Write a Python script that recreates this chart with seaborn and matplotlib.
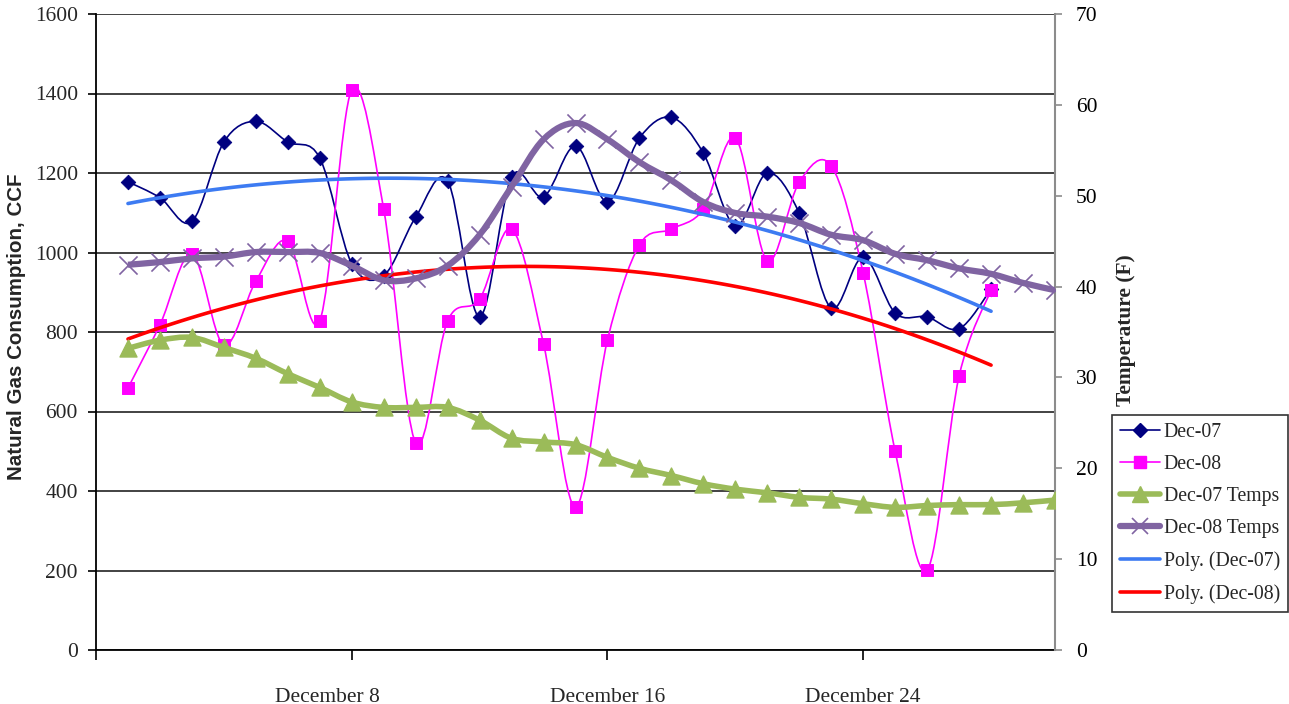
import numpy as np
import pandas as pd
import matplotlib
matplotlib.use('Agg')
import matplotlib.pyplot as plt
import matplotlib.transforms as mtransforms
from matplotlib.path import Path
from matplotlib.patches import PathPatch
from matplotlib.lines import Line2D
import seaborn as sns

# gas use, CCF, Dec 1 - Dec 28
gas_days = list(range(1, 29))
dec07_gas = [1178, 1138, 1078, 1278, 1330, 1278, 1238, 972, 942, 1089, 1180, 838, 1190, 1140,
             1268, 1128, 1288, 1340, 1250, 1067, 1200, 1099, 860, 988, 848, 838, 808, 908]
dec08_gas = [659, 818, 996, 767, 928, 1029, 828, 1409, 1109, 521, 828, 883, 1059, 770,
             360, 780, 1019, 1059, 1109, 1288, 979, 1177, 1218, 948, 500, 201, 689, 906]

# temperatures (F), Dec 1 - Dec 30
temp_days = list(range(1, 31))
dec07_temp = [33.2, 34.1, 34.4, 33.3, 32.1, 30.4, 28.9, 27.3, 26.7, 26.7, 26.7, 25.3, 23.3, 22.9, 22.6,
              21.2, 20.0, 19.2, 18.3, 17.7, 17.3, 16.8, 16.6, 16.1, 15.7, 15.9, 16.0, 16.0, 16.2, 16.5]
dec08_temp = [42.4, 42.7, 43.1, 43.3, 43.8, 43.8, 43.7, 42.3, 40.7, 40.9, 42.3, 45.7, 51.0, 56.2, 58.0,
              56.2, 53.7, 51.7, 49.3, 48.1, 47.7, 47.0, 45.7, 45.1, 43.6, 42.9, 42.0, 41.4, 40.4, 39.6]

tick_days = [0, 8, 16, 24]
tick_labels = ['', 'December 8', 'December 16', 'December 24']

NAVY = '#000080'
PINK = '#FF00FF'
GREEN = '#9BBB59'
PURPLE = '#8064A2'
BLUE = '#3D7BF2'
RED = '#FF0000'


def smooth_path(x, y):
    # excel style smoothed line (catmull-rom as bezier segments)
    pts = np.column_stack([x, y]).astype(float)
    n = len(pts)
    verts = [pts[0]]
    codes = [Path.MOVETO]
    for i in range(n - 1):
        p0 = pts[max(i - 1, 0)]
        p1 = pts[i]
        p2 = pts[i + 1]
        p3 = pts[min(i + 2, n - 1)]
        verts += [p1 + (p2 - p0) / 6, p2 - (p3 - p1) / 6, p2]
        codes += [Path.CURVE4] * 3
    return Path(verts, codes)


sns.set_style('white')
plt.rcParams['font.family'] = ['Liberation Serif', 'DejaVu Serif']

fig = plt.figure(figsize=(12.89, 7.04), dpi=100)
ax = fig.add_axes([96 / 1289, 54 / 704, 959 / 1289, 636 / 704])
ax2 = ax.twinx()

# gas series on left axis
gas = pd.DataFrame({'day': gas_days, 'd07': dec07_gas, 'd08': dec08_gas})
ax.add_patch(PathPatch(smooth_path(gas['day'], gas['d07']), fill=False, edgecolor=NAVY, lw=1.2, zorder=3))
sns.scatterplot(data=gas, x='day', y='d07', ax=ax, color=NAVY, marker='D', s=55, edgecolor=NAVY, zorder=4)
ax.add_patch(PathPatch(smooth_path(gas['day'], gas['d08']), fill=False, edgecolor=PINK, lw=1.2, zorder=3))
sns.scatterplot(data=gas, x='day', y='d08', ax=ax, color=PINK, marker='s', s=75, edgecolor=PINK, zorder=4)

# 2nd order poly trend lines
sns.regplot(data=gas, x='day', y='d07', order=2, scatter=False, ci=None, ax=ax,
            line_kws={'color': BLUE, 'lw': 2.6, 'zorder': 5})
sns.regplot(data=gas, x='day', y='d08', order=2, scatter=False, ci=None, ax=ax,
            line_kws={'color': RED, 'lw': 2.6, 'zorder': 5})

# temps on right axis
temps = pd.DataFrame({'day': temp_days, 't07': dec07_temp, 't08': dec08_temp})
ax2.add_patch(PathPatch(smooth_path(temps['day'], temps['t07']), fill=False, edgecolor=GREEN, lw=4, zorder=3))
sns.scatterplot(data=temps, x='day', y='t07', ax=ax2, color=GREEN, marker='^', s=150, edgecolor=GREEN, zorder=4)
ax2.add_patch(PathPatch(smooth_path(temps['day'], temps['t08']), fill=False, edgecolor=PURPLE, lw=4.5, zorder=3))
sns.scatterplot(data=temps, x='day', y='t08', ax=ax2, color=PURPLE, marker='x', s=170, linewidth=1.2, zorder=4)

ax.set_xlim(0, 30)
ax.set_ylim(0, 1600)
ax2.set_ylim(0, 70)
ax.set_yticks(range(0, 1601, 200))
ax2.set_yticks(range(0, 71, 10))
ax.set_xticks(tick_days)
ax.set_xticklabels(tick_labels)
ax.set_xlabel('')
ax.set_ylabel('')
ax2.set_ylabel('')

ax.yaxis.grid(True, color='#222222', lw=1.2)
ax.xaxis.grid(False)
ax2.grid(False)

for s in ['top', 'right']:
    ax.spines[s].set_visible(False)
for s in ['top', 'left', 'bottom']:
    ax2.spines[s].set_visible(False)
ax.spines['left'].set_color('black')
ax.spines['bottom'].set_color('black')
ax.spines['left'].set_linewidth(1.3)
ax.spines['bottom'].set_linewidth(1.3)
ax2.spines['right'].set_color('#8C8C8C')
ax2.spines['right'].set_linewidth(1.5)

ax.tick_params(axis='y', left=True, direction='out', length=6, width=1.2, color='black',
               labelsize=15.5, pad=7)
ax.tick_params(axis='x', bottom=True, direction='out', length=7, width=1.2, color='black',
               labelsize=15.5, pad=20)
ax2.tick_params(axis='y', right=True, direction='out', length=5, width=1.2, color='#8C8C8C',
                labelsize=15.5, pad=10, labelcolor='black')

# excel puts the first date label a bit left of its tick
shift = mtransforms.ScaledTranslation(-24 / 100, 0, fig.dpi_scale_trans)
lbl = ax.get_xticklabels()[1]
lbl.set_transform(lbl.get_transform() + shift)

fig.text(17 / 1289, 1 - 327 / 704, 'Natural Gas Consumption, CCF', rotation=90, ha='center', va='center',
         fontsize=14.8, fontweight='bold', family=['Liberation Sans', 'DejaVu Sans'])
fig.text(1126 / 1289, 1 - 330 / 704, 'Temperature (F)', rotation=90, ha='center', va='center',
         fontsize=15.4, fontweight='bold')

handles = [
    Line2D([], [], color=NAVY, lw=1.2, marker='D', ms=7),
    Line2D([], [], color=PINK, lw=1.2, marker='s', ms=8),
    Line2D([], [], color=GREEN, lw=4, marker='^', ms=11),
    Line2D([], [], color=PURPLE, lw=4.5, marker='x', ms=12, mew=1.2),
    Line2D([], [], color=BLUE, lw=2.6),
    Line2D([], [], color=RED, lw=2.6),
]
labels = ['Dec-07', 'Dec-08', 'Dec-07 Temps', 'Dec-08 Temps', 'Poly. (Dec-07)', 'Poly. (Dec-08)']
leg = fig.legend(handles, labels, loc='lower left', bbox_to_anchor=(1112 / 1289, 1 - 612 / 704),
                 frameon=True, fancybox=False, edgecolor='black', fontsize=14.2, handlelength=2.0,
                 handletextpad=0.2, labelspacing=0.66, borderpad=0.42, borderaxespad=0)
leg.get_frame().set_linewidth(1.2)

fig.savefig('out.png', dpi=100)
